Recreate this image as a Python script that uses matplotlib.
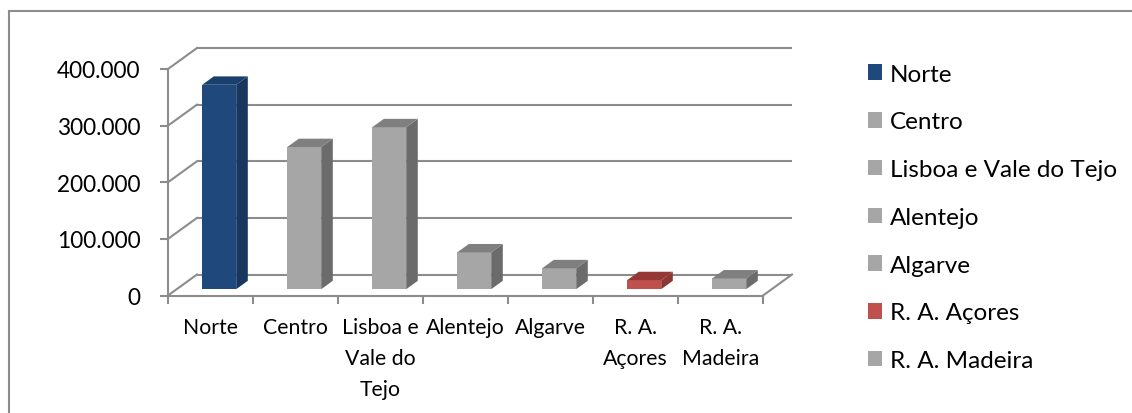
import matplotlib
matplotlib.use("Agg")
import matplotlib.pyplot as plt
from matplotlib.patches import Polygon, Patch
from matplotlib.lines import Line2D
from matplotlib.ticker import FuncFormatter

plt.rcParams["font.family"] = ["Lato", "DejaVu Sans"]

# data
regioes = ["Norte", "Centro", "Lisboa e Vale do Tejo", "Alentejo", "Algarve",
           "R. A. Açores", "R. A. Madeira"]
rotulos = ["Norte", "Centro", "Lisboa e\nVale do\nTejo", "Alentejo", "Algarve",
           "R. A.\nAçores", "R. A.\nMadeira"]
valores = [361000, 251000, 286000, 65000, 37000, 16000, 19000]
yticks = [0, 100000, 200000, 300000, 400000]

# colours (front, side, top)
azul = ("#1F497D", "#17375E", "#1B3F6C")
cinza = ("#A6A6A6", "#6B6B6B", "#7F7F7F")
verm = ("#C0504D", "#8C3734", "#953735")
cores = [azul, cinza, cinza, cinza, cinza, verm, cinza]
grid_c = "#8C8C8C"

W, H = 1132, 414
fig = plt.figure(figsize=(W / 100, H / 100), dpi=100)
ax = fig.add_axes([168 / W, (H - 296.5) / H, (763 - 168) / W, (296.5 - 70) / H])
ax.set_xlim(-0.5, 6.5)
ax.set_ylim(0, 400000)

# depth of the 3d box in data units
DX = 29 / 85
DY = 21 / (226.5 / 400000)
f0, f1 = 0.3, 0.7   # bar depth range
bw = 0.4

# back wall gridlines, side wall diagonals
x0, x1 = -0.5, 6.5
for v in yticks:
    ax.plot([x0 + DX, x1 + DX], [v + DY, v + DY], color=grid_c, lw=1.5,
            clip_on=False, zorder=1, solid_capstyle="butt")
    ax.plot([x0, x0 + DX], [v, v + DY], color=grid_c, lw=1.5,
            clip_on=False, zorder=1)
ax.plot([x1, x1 + DX], [0, DY], color=grid_c, lw=1.5, clip_on=False, zorder=1)

# bars
for i, (v, c) in enumerate(zip(valores, cores)):
    xl = i - bw / 2 + f0 * DX
    xr = xl + bw
    yb = f0 * DY
    yt = v + f0 * DY
    ddx = (f1 - f0) * DX
    ddy = (f1 - f0) * DY
    ax.bar(xl, v, width=bw, bottom=yb, align="edge", color=c[0],
           clip_on=False, zorder=3, linewidth=0)
    side = Polygon([(xr, yb), (xr + ddx, yb + ddy), (xr + ddx, yt + ddy), (xr, yt)],
                   closed=True, facecolor=c[1], edgecolor="none", clip_on=False, zorder=3)
    top = Polygon([(xl, yt), (xr, yt), (xr + ddx, yt + ddy), (xl + ddx, yt + ddy)],
                  closed=True, facecolor=c[2], edgecolor="none", clip_on=False, zorder=3)
    ax.add_patch(side)
    ax.add_patch(top)

# axes
for s in ["top", "right"]:
    ax.spines[s].set_visible(False)
for s in ["left", "bottom"]:
    ax.spines[s].set_color(grid_c)
    ax.spines[s].set_linewidth(1.5)
    ax.spines[s].set_zorder(2)

ax.set_yticks(yticks)
ax.yaxis.set_major_formatter(FuncFormatter(lambda v, p: f"{int(v):,}".replace(",", ".")))
ax.tick_params(axis="y", length=6, width=1.5, color=grid_c, pad=14,
               labelsize=16.3, labelcolor="black")

ax.set_xticks(range(len(rotulos)))
ax.set_xticklabels(rotulos, fontsize=15.3, linespacing=1.68)
ax.set_xticks([x - 0.5 for x in range(len(rotulos) + 1)], minor=True)
ax.tick_params(axis="x", which="major", length=0, pad=15.5)
ax.tick_params(axis="x", which="minor", length=6, width=1.5, color=grid_c)

# legend
handles = [Patch(facecolor=c[0], edgecolor="none") for c in cores]
fig.legend(handles, regioes, loc="upper left", bbox_to_anchor=(858 / W, 1 - 55 / H),
           frameon=False, fontsize=17.5, handlelength=0.6, handleheight=0.6,
           handletextpad=0.3, labelspacing=1.1, borderaxespad=0)

# outer frame
fig.add_artist(Line2D([8.5 / W, 1], [1 - 11.5 / H, 1 - 11.5 / H], color="#8C8C8C", lw=1.5))
fig.add_artist(Line2D([8.5 / W, 8.5 / W], [0, 1 - 11.5 / H], color="#8C8C8C", lw=1.5))

fig.savefig("out.png", dpi=100)
